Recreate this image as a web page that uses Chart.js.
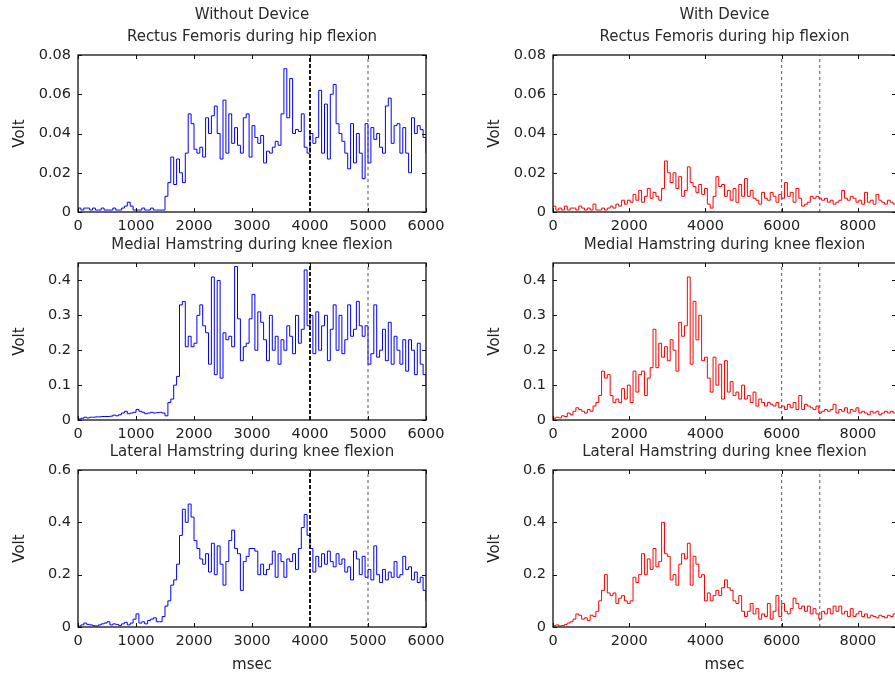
<!DOCTYPE html>
<html>
<head>
<meta charset="utf-8">
<script src="https://cdn.jsdelivr.net/npm/chart.js@4"></script>
<style>
html,body{margin:0;padding:0;width:895px;height:673px;overflow:hidden;background:#fff;}
#wrap{position:relative;width:895px;height:673px;overflow:hidden;}
canvas{position:absolute;}
</style>
</head>
<body>
<div id="wrap"></div>
<script>
// ---------- DATA ----------
const leftStepMs = 50;   // sample interval, Without Device
const rightStepMs = 75;  // sample interval, With Device

const rfWithout = [
0.002,0.001,0.002,0.002,0.001,0.002,0.001,0.001,0.002,0.001,
0.001,0.001,0.002,0.001,0.001,0.002,0.003,0.005,0.003,0.001,
0.001,0.001,0.002,0.001,0.001,0.002,0.001,0.001,0.001,0.001,
0.008,0.015,0.028,0.014,0.027,0.02,0.015,0.03,0.05,0.045,
0.032,0.03,0.033,0.028,0.048,0.04,0.049,0.054,0.04,0.027,
0.057,0.03,0.05,0.035,0.043,0.034,0.03,0.048,0.05,0.028,
0.044,0.038,0.035,0.039,0.025,0.031,0.03,0.033,0.036,0.034,
0.05,0.073,0.048,0.068,0.04,0.042,0.041,0.05,0.033,0.03,
0.04,0.035,0.038,0.062,0.03,0.055,0.027,0.06,0.065,0.045,
0.04,0.036,0.03,0.022,0.045,0.025,0.04,0.03,0.017,0.045,
0.025,0.043,0.037,0.04,0.033,0.03,0.054,0.058,0.035,0.044,
0.045,0.03,0.043,0.03,0.02,0.048,0.04,0.044,0.042,0.038,
0.03];

const mhWithout = [
0.003,0.005,0.008,0.006,0.008,0.008,0.009,0.009,0.01,0.01,
0.01,0.011,0.014,0.012,0.015,0.02,0.025,0.018,0.02,0.022,
0.03,0.025,0.022,0.018,0.02,0.022,0.02,0.021,0.022,0.02,
0.012,0.05,0.06,0.1,0.125,0.33,0.34,0.21,0.24,0.21,
0.22,0.3,0.33,0.27,0.25,0.16,0.41,0.13,0.4,0.12,
0.25,0.23,0.24,0.21,0.44,0.29,0.17,0.21,0.22,0.29,
0.36,0.2,0.31,0.28,0.23,0.17,0.3,0.2,0.24,0.16,
0.23,0.2,0.27,0.24,0.19,0.3,0.22,0.26,0.43,0.27,
0.3,0.19,0.31,0.2,0.27,0.3,0.17,0.26,0.33,0.2,
0.3,0.19,0.23,0.33,0.24,0.26,0.34,0.27,0.24,0.27,
0.16,0.19,0.33,0.18,0.2,0.26,0.17,0.28,0.16,0.24,
0.2,0.16,0.23,0.14,0.23,0.2,0.13,0.22,0.16,0.13,
0.1];

const lhWithout = [
0.003,0.008,0.015,0.01,0.008,0.005,0.004,0.008,0.012,0.015,
0.02,0.008,0.012,0.01,0.006,0.012,0.018,0.008,0.015,0.03,
0.05,0.015,0.02,0.012,0.025,0.03,0.035,0.02,0.02,0.04,
0.08,0.1,0.16,0.18,0.24,0.35,0.45,0.4,0.47,0.42,
0.33,0.3,0.26,0.24,0.28,0.21,0.32,0.2,0.31,0.24,
0.16,0.25,0.33,0.37,0.3,0.28,0.14,0.25,0.27,0.3,
0.3,0.29,0.2,0.24,0.2,0.22,0.24,0.29,0.19,0.28,
0.25,0.19,0.26,0.25,0.28,0.22,0.3,0.38,0.43,0.35,
0.3,0.21,0.27,0.23,0.28,0.24,0.29,0.25,0.23,0.28,
0.24,0.26,0.21,0.23,0.18,0.29,0.26,0.2,0.27,0.19,
0.22,0.18,0.31,0.2,0.17,0.22,0.18,0.21,0.19,0.25,
0.19,0.2,0.27,0.22,0.23,0.18,0.21,0.17,0.19,0.14,
0.1];

const rfWith = [
0.003,0.001,0.002,0.001,0.003,0.001,0.002,0.002,0.001,0.003,
0.002,0.001,0.002,0.001,0.004,0.001,0.001,0.002,0.001,0.002,
0.003,0.002,0.004,0.003,0.006,0.004,0.006,0.005,0.009,0.006,
0.011,0.005,0.008,0.012,0.007,0.01,0.008,0.006,0.012,0.026,
0.02,0.015,0.02,0.012,0.018,0.008,0.011,0.023,0.015,0.013,
0.01,0.014,0.009,0.012,0.004,0.002,0.008,0.018,0.013,0.014,
0.008,0.011,0.006,0.012,0.005,0.014,0.008,0.017,0.008,0.011,
0.007,0.006,0.004,0.01,0.007,0.006,0.01,0.008,0.005,0.009,
0.007,0.015,0.008,0.01,0.005,0.012,0.007,0.003,0.004,0.005,
0.008,0.007,0.008,0.007,0.006,0.007,0.005,0.006,0.004,0.005,
0.006,0.011,0.007,0.006,0.008,0.007,0.005,0.006,0.004,0.01,
0.005,0.006,0.004,0.009,0.006,0.005,0.004,0.006,0.005,0.004,
0.005];

const mhWith = [
0.005,0.008,0.006,0.012,0.01,0.02,0.015,0.025,0.035,0.03,
0.025,0.02,0.03,0.025,0.04,0.05,0.07,0.14,0.12,0.13,
0.07,0.05,0.06,0.05,0.09,0.06,0.1,0.05,0.14,0.08,
0.13,0.14,0.07,0.12,0.15,0.26,0.15,0.22,0.18,0.21,
0.17,0.23,0.2,0.14,0.28,0.24,0.27,0.41,0.16,0.34,
0.23,0.3,0.17,0.18,0.12,0.08,0.18,0.1,0.16,0.06,
0.17,0.08,0.11,0.07,0.08,0.06,0.1,0.06,0.07,0.05,
0.08,0.04,0.06,0.05,0.04,0.05,0.045,0.04,0.05,0.035,
0.04,0.03,0.045,0.035,0.05,0.03,0.07,0.03,0.045,0.04,
0.035,0.03,0.04,0.02,0.025,0.03,0.025,0.03,0.045,0.02,
0.03,0.025,0.035,0.02,0.03,0.025,0.035,0.02,0.025,0.02,
0.015,0.025,0.02,0.025,0.015,0.02,0.025,0.02,0.025,0.02,
0.03];

const lhWith = [
0.005,0.008,0.004,0.006,0.01,0.015,0.02,0.03,0.05,0.045,
0.03,0.035,0.025,0.045,0.04,0.06,0.1,0.14,0.2,0.13,
0.12,0.13,0.09,0.11,0.12,0.1,0.09,0.1,0.19,0.17,
0.2,0.28,0.2,0.26,0.22,0.3,0.23,0.25,0.4,0.28,
0.27,0.18,0.2,0.16,0.24,0.28,0.26,0.32,0.16,0.27,
0.24,0.19,0.2,0.1,0.13,0.1,0.12,0.14,0.12,0.15,
0.18,0.15,0.14,0.1,0.09,0.12,0.06,0.04,0.06,0.09,
0.05,0.07,0.03,0.05,0.04,0.09,0.03,0.06,0.12,0.04,
0.09,0.06,0.05,0.07,0.11,0.09,0.07,0.08,0.06,0.08,
0.05,0.07,0.05,0.03,0.06,0.05,0.07,0.05,0.08,0.06,
0.08,0.05,0.06,0.04,0.07,0.04,0.05,0.06,0.04,0.05,
0.035,0.045,0.04,0.035,0.045,0.04,0.035,0.045,0.04,0.05,
0.05];

const xTicksLeft = [0,1000,2000,3000,4000,5000,6000];
const xTicksRight = [0,2000,4000,6000,8000];
const xMaxLeft = 6000, xMaxRight = 9000;
const yTicksRF = [0,0.02,0.04,0.06,0.08];
const yTicksMH = [0,0.1,0.2,0.3,0.4];
const yTicksLH = [0,0.2,0.4,0.6];
const yMaxRF = 0.08, yMaxMH = 0.45, yMaxLH = 0.6;
const markersLeft = [4000,5000];
const markersRight = [6000,7000];
const colTitles = ['Without Device','With Device'];
const rowTitles = ['Rectus Femoris during hip flexion','Medial Hamstring during knee flexion','Lateral Hamstring during knee flexion'];
const yLabel = 'Volt';
const xLabel = 'msec';

// ---------- LAYOUT ----------
const cols = [{L:78,R:426},{L:553,R:896}];
const rowsT = [55,263,470];
const plotH = 157;
const AXW = 78, TOPPAD = 55, AXH = 55, RPAD = 30;
const FONT = 'DejaVu Sans';
const TXT = '#222';

const panels = [
  {col:0,row:0,vals:rfWithout,step:leftStepMs,xt:xTicksLeft,xmax:xMaxLeft,yt:yTicksRF,ymax:yMaxRF,mk:markersLeft,color:'#0000ff'},
  {col:0,row:1,vals:mhWithout,step:leftStepMs,xt:xTicksLeft,xmax:xMaxLeft,yt:yTicksMH,ymax:yMaxMH,mk:markersLeft,color:'#0000ff'},
  {col:0,row:2,vals:lhWithout,step:leftStepMs,xt:xTicksLeft,xmax:xMaxLeft,yt:yTicksLH,ymax:yMaxLH,mk:markersLeft,color:'#0000ff'},
  {col:1,row:0,vals:rfWith,step:rightStepMs,xt:xTicksRight,xmax:xMaxRight,yt:yTicksRF,ymax:yMaxRF,mk:markersRight,color:'#ff0000'},
  {col:1,row:1,vals:mhWith,step:rightStepMs,xt:xTicksRight,xmax:xMaxRight,yt:yTicksMH,ymax:yMaxMH,mk:markersRight,color:'#ff0000'},
  {col:1,row:2,vals:lhWith,step:rightStepMs,xt:xTicksRight,xmax:xMaxRight,yt:yTicksLH,ymax:yMaxLH,mk:markersRight,color:'#ff0000'}
];

const boxPlugin = {
  id:'matlabBox',
  afterDraw(chart, args, opts){
    const ctx = chart.ctx;
    const a = chart.chartArea;
    const xs = chart.scales.x, ys = chart.scales.y;
    ctx.save();
    ctx.strokeStyle = '#111';
    ctx.lineWidth = 1;
    ctx.beginPath();
    xs.ticks.forEach(t => {
      const p = Math.round(xs.getPixelForValue(t.value)) + 0.5;
      ctx.moveTo(p, a.bottom); ctx.lineTo(p, a.bottom - 4);
      ctx.moveTo(p, a.top); ctx.lineTo(p, a.top + 4);
    });
    ys.ticks.forEach(t => {
      const p = Math.round(ys.getPixelForValue(t.value)) + 0.5;
      ctx.moveTo(a.left, p); ctx.lineTo(a.left + 4, p);
      ctx.moveTo(a.right, p); ctx.lineTo(a.right - 4, p);
    });
    ctx.stroke();
    ctx.lineWidth = 1.3;
    ctx.strokeRect(a.left, a.top, a.right - a.left, a.bottom - a.top);
    // panel titles
    ctx.fillStyle = '#2a2a2a';
    ctx.font = '15px "' + FONT + '"';
    ctx.textAlign = 'center';
    ctx.textBaseline = 'middle';
    const cx = (a.left + a.right) / 2;
    const lines = opts.lines || [];
    for (let i = 0; i < lines.length; i++) {
      const y = a.top - 18 - (lines.length - 1 - i) * 22;
      ctx.fillText(lines[i], cx, y);
    }
    ctx.restore();
  }
};

const wrap = document.getElementById('wrap');
panels.forEach(p => {
  const c = cols[p.col];
  const T = rowsT[p.row];
  const w = (c.R - c.L) + AXW + RPAD;
  const h = TOPPAD + plotH + AXH;
  const cv = document.createElement('canvas');
  cv.width = w; cv.height = h;
  cv.style.left = (c.L - AXW) + 'px';
  cv.style.top = (T - TOPPAD) + 'px';
  cv.style.width = w + 'px'; cv.style.height = h + 'px';
  wrap.appendChild(cv);

  const series = p.vals.map((v, i) => ({x: i * p.step, y: v}));
  const datasets = [];
  p.mk.forEach((m, k) => {
    const strong = (p.col === 0 && k === 0);
    datasets.push({
      data: [{x:m, y:0}, {x:m, y:p.ymax}],
      borderColor: strong ? '#000' : '#555',
      borderWidth: strong ? 1.8 : 1,
      borderDash: strong ? [4,2] : [3,3],
      pointRadius: 0, fill:false
    });
  });
  datasets.push({
    data: series, borderColor: p.color, borderWidth: 1,
    pointRadius: 0, fill: false, stepped: true, tension: 0
  });
  const titleLines = p.row === 0 ? [colTitles[p.col], rowTitles[0]] : [rowTitles[p.row]];

  new Chart(cv, {
    type: 'line',
    data: { datasets },
    options: {
      responsive: false, animation: false, devicePixelRatio: 1,
      layout: { padding: { top: TOPPAD, right: RPAD, left: 0, bottom: 0 } },
      plugins: { legend: { display: false }, tooltip: { enabled: false }, title: { display: false },
                 matlabBox: { lines: titleLines } },
      scales: {
        x: {
          type: 'linear', min: 0, max: p.xmax,
          grid: { display: false, drawTicks: false },
          border: { display: false },
          ticks: { padding: 6, color: TXT, font: { family: FONT, size: 14.5 }, autoSkip: false, maxRotation: 0,
                   callback: v => String(v) },
          afterBuildTicks: s => { s.ticks = p.xt.map(v => ({ value: v })); },
          afterFit: s => { s.height = AXH; },
          title: { display: p.row === 2, text: xLabel, color: TXT, font: { family: FONT, size: 15 }, padding: { top: 0, bottom: 8 } }
        },
        y: {
          type: 'linear', min: 0, max: p.ymax,
          grid: { display: false, drawTicks: false },
          border: { display: false },
          ticks: { padding: 7, color: TXT, font: { family: FONT, size: 14.5 }, autoSkip: false,
                   callback: v => String(v) },
          afterBuildTicks: s => { s.ticks = p.yt.map(v => ({ value: v })); },
          afterFit: s => { s.width = AXW; },
          title: { display: true, text: yLabel, color: TXT, font: { family: FONT, size: 15 }, padding: { top: 11, bottom: 0 } }
        }
      }
    },
    plugins: [boxPlugin]
  });
});
</script>
</body>
</html>
